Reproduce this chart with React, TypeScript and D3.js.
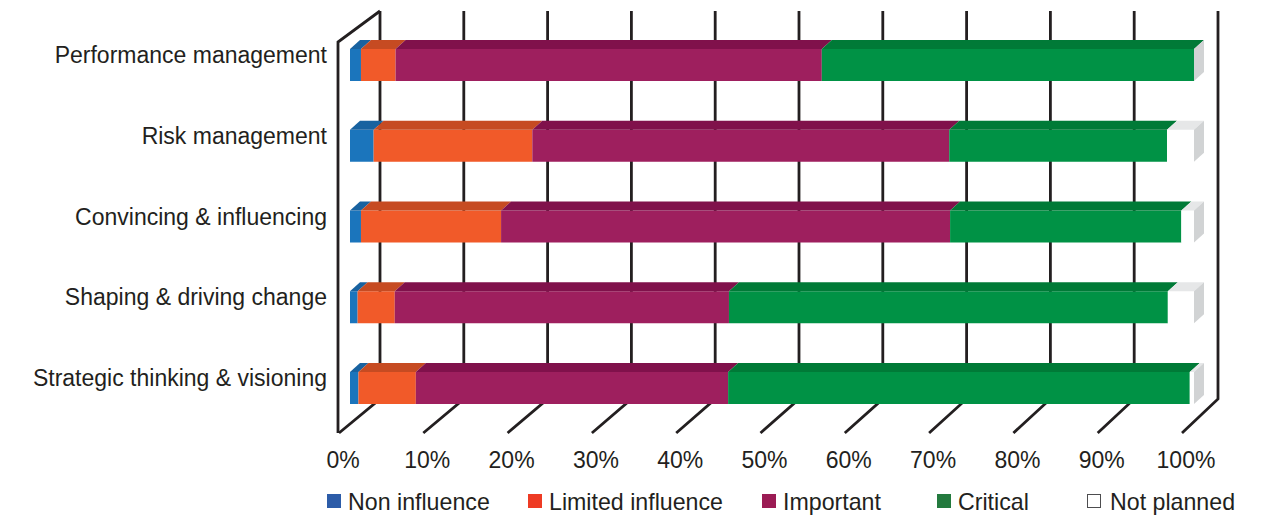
import React from "react";
import * as d3 from "d3";

// Survey shares (percent of respondents) per competency
const categories = [
  "Performance management",
  "Risk management",
  "Convincing & influencing",
  "Shaping & driving change",
  "Strategic thinking & visioning",
];
const nonInfluence = [1.3, 2.8, 1.3, 0.9, 1.0];
const limitedInfluence = [4.1, 18.8, 16.6, 4.4, 6.8];
const important = [50.5, 49.4, 53.2, 39.6, 37.0];
const critical = [44.1, 25.8, 27.4, 52.0, 54.7];
const notPlanned = [0, 3.2, 1.5, 3.1, 0.5];

const seriesNames = ["Non influence", "Limited influence", "Important", "Critical", "Not planned"];
const tickValues = [0, 10, 20, 30, 40, 50, 60, 70, 80, 90, 100];

// face / top / legend colours per series
const frontColors = ["#1b75bc", "#f15a29", "#9e1f5e", "#009245", "#ffffff"];
const topColors = ["#1862a0", "#c64b22", "#80114b", "#007a37", "#e6e7e8"];
const legendColors = ["#2c5ca8", "#ee3b24", "#9b1b54", "#237a3e", "#ffffff"];
const sideColor = "#d1d3d4";
const ink = "#231f20";

const W = 1272;
const H = 518;
const FONT = "'Liberation Sans', Arial, Helvetica, sans-serif";

export default function App() {
  const rows = categories.map((c, i) => ({
    category: c,
    "Non influence": nonInfluence[i],
    "Limited influence": limitedInfluence[i],
    Important: important[i],
    Critical: critical[i],
    "Not planned": notPlanned[i],
  }));
  const stacked = d3.stack<any>().keys(seriesNames)(rows);

  // three parallel planes of the 3D box: bar front faces, back wall, floor front edge
  const xFront = d3.scaleLinear().domain([0, 100]).range([350, 1194]);
  const xBack = d3.scaleLinear().domain([0, 100]).range([380, 1218]);
  const xFloor = d3.scaleLinear().domain([0, 100]).range([339, 1182]);
  const yRow = d3.scalePoint<string>().domain(categories).range([49, 372]);

  const barH = 32;
  const depthX = 10;
  const depthY = 9;

  const wallTop = 11;
  const wallBottom = 399;
  const floorFront = 433;
  const leftFrontX = 338;
  const leftFrontTop = 42;

  const poly = (pts: [number, number][]) => pts.map((p) => p.join(",")).join(" ");

  return (
    <svg
      width={W}
      height={H}
      style={{ position: "absolute", left: 0, top: 0, background: "#fff" }}
      fontFamily={FONT}
    >
      {/* back wall gridlines and floor lines */}
      <g stroke={ink} strokeWidth={2.8} fill="none" strokeLinecap="butt">
        {tickValues.map((t) => (
          <polyline
            key={t}
            points={poly([
              [xBack(t), wallTop],
              [xBack(t), wallBottom],
              [xFloor(t), floorFront],
            ])}
          />
        ))}
        {/* left wall outline */}
        <polyline
          points={poly([
            [xBack(0), wallTop],
            [leftFrontX, leftFrontTop],
            [leftFrontX, floorFront],
          ])}
        />
      </g>

      {/* stacked 3D bars */}
      {categories.map((cat, ri) => {
        const y = yRow(cat)!;
        return (
          <g key={cat}>
            {stacked.map((s, si) => {
              const [v0, v1] = s[ri];
              const x0 = xFront(v0);
              const x1 = xFront(v1);
              if (x1 - x0 <= 0) return null;
              return (
                <g key={s.key}>
                  <rect x={x0} y={y} width={x1 - x0} height={barH} fill={frontColors[si]} />
                  <polygon
                    points={poly([
                      [x0, y],
                      [x1, y],
                      [x1 + depthX, y - depthY],
                      [x0 + depthX, y - depthY],
                    ])}
                    fill={topColors[si]}
                  />
                </g>
              );
            })}
            <polygon
              points={poly([
                [xFront(100), y],
                [xFront(100) + depthX, y - depthY],
                [xFront(100) + depthX, y + barH - depthY],
                [xFront(100), y + barH],
              ])}
              fill={sideColor}
            />
            <text
              x={327}
              y={y + 14}
              textAnchor="end"
              fontSize={23}
              fill={ink}
            >
              {cat}
            </text>
          </g>
        );
      })}

      {/* axis labels */}
      {tickValues.map((t) => (
        <text
          key={t}
          x={xFloor(t) + 4}
          y={468}
          textAnchor="middle"
          fontSize={23}
          fill={ink}
        >
          {`${t}%`}
        </text>
      ))}

      {/* legend */}
      {seriesNames.map((name, i) => {
        const lx = [327, 528, 762, 937, 1087][i];
        return (
          <g key={name}>
            <rect
              x={lx + (i === 4 ? 0.5 : 0)}
              y={494 + (i === 4 ? 0.5 : 0)}
              width={i === 4 ? 13 : 14}
              height={i === 4 ? 13 : 14}
              fill={legendColors[i]}
              stroke={i === 4 ? "#4d4d4f" : "none"}
              strokeWidth={1}
            />
            <text x={lx + (i === 4 ? 23 : 21)} y={510} fontSize={23.2} fill={ink}>
              {name}
            </text>
          </g>
        );
      })}
    </svg>
  );
}
